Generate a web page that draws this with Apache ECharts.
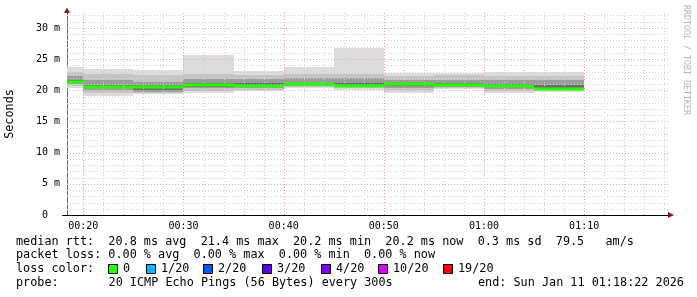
<!DOCTYPE html>
<html><head><meta charset="utf-8">
<script src="https://cdn.jsdelivr.net/npm/echarts@6/dist/echarts.min.js"></script>
<style>html,body{margin:0;padding:0;background:#fff}#c{width:697px;height:297px}</style>
</head><body><div id="c"></div>
<script>
// ---- data (minutes after 00:00, values in ms) ----
const segStart = [15, 20, 25, 30, 35, 40, 45, 50, 55, 60, 65];
const stepMinutes = 5;
const pMin = [20.3, 19.1, 19.4, 19.5, 19.9, 20.4, 20.1, 19.5, 20.2, 19.5, 19.7];
const p10  = [20.7, 19.6, 19.6, 19.9, 20.1, 20.5, 20.3, 20.0, 20.4, 19.9, 20.0];
const p25  = [21.0, 20.1, 19.8, 20.3, 20.4, 20.7, 20.5, 20.3, 20.6, 20.2, 20.1];
const p40  = [21.2, 20.4, 20.1, 20.6, 20.6, 20.8, 20.6, 20.7, 20.8, 20.5, 20.2];
const p60  = [21.7, 20.9, 20.8, 21.2, 21.1, 21.2, 21.2, 21.2, 21.2, 21.0, 20.8];
const p75  = [22.3, 21.6, 21.4, 21.8, 21.8, 21.9, 22.0, 21.7, 21.7, 21.6, 21.6];
const p90  = [23.0, 22.6, 22.4, 22.6, 22.5, 22.6, 22.6, 22.3, 22.5, 22.3, 22.3];
const pMax = [23.8, 23.4, 23.3, 25.7, 23.1, 23.8, 26.8, 22.8, 22.8, 22.9, 23.0];
const medianRtt = [21.4, 20.6, 20.5, 20.9, 20.75, 20.95, 20.65, 21.0, 20.9, 20.65, 20.2];

const xTickLabels = [20, 30, 40, 50, 60, 70];
const yTicks = [0, 5, 10, 15, 20, 25, 30];
const rttStats = [20.8, 21.4, 20.2, 20.2, 0.3];   // avg, max, min, now, sd
const amPerS = 79.5;
const lossStats = [0, 0, 0, 0];                 // avg, max, min, now
const lossLabels = ['0', '1/20', '2/20', '3/20', '4/20', '10/20', '19/20'];
const lossColors = ['#26ff00', '#00b8ff', '#0059ff', '#5e00ff', '#7e00ff', '#dd00ff', '#ff0000'];
const probeText = '20 ICMP Echo Pings (56 Bytes) every 300s';
const endText = 'end: Sun Jan 11 01:18:22 2026';

// ---- styles ----
const X_MIN = 18.37, X_MAX = 78.37, Y_MAX = 32.4;
const bandColors = ['#dcdcdc', '#c4c4c4', '#9c9c9c', '#6c6c6c', '#9c9c9c', '#c4c4c4', '#dcdcdc'];
const MONO = '"DejaVu Sans Mono", monospace';

const levels = [pMin, p10, p25, p40, p60, p75, p90, pMax];
const smokeData = [];
segStart.forEach((s, i) => {
  for (let b = 0; b < levels.length - 1; b++) {
    smokeData.push([s, s + stepMinutes, levels[b][i], levels[b + 1][i], b]);
  }
});
const medianData = segStart.map((s, i) => [s, s + stepMinutes, medianRtt[i]]);

// grid lines: [orientation, value, major]
const gridData = [];
for (let m = 20; m <= 78; m += 2) gridData.push([0, m, m % 10 === 0 ? 1 : 0]);
for (let v = 1; v <= 32; v++) gridData.push([1, v, v % 5 === 0 ? 1 : 0]);

function clip(r, cs) {
  return echarts.graphic.clipRectByRect(r, {x: cs.x, y: cs.y, width: cs.width, height: cs.height});
}
function renderSmoke(params, api) {
  const a = api.coord([api.value(0), api.value(3)]);
  const b = api.coord([api.value(1), api.value(2)]);
  const x0 = Math.round(a[0]), x1 = Math.round(b[0]);
  const y0 = Math.round(a[1]), y1 = Math.round(b[1]);
  const r = clip({x: x0, y: y0, width: x1 - x0, height: y1 - y0}, params.coordSys);
  if (!r) return;
  return {type: 'rect', shape: r, style: {fill: bandColors[api.value(4)]}};
}
function renderMedian(params, api) {
  const a = api.coord([api.value(0), api.value(2)]);
  const b = api.coord([api.value(1), api.value(2)]);
  const x0 = Math.round(a[0]), x1 = Math.round(b[0]);
  const r = clip({x: x0, y: Math.round(a[1]) - 1.5, width: x1 - x0, height: 3}, params.coordSys);
  if (!r) return;
  return {type: 'rect', shape: r, style: {fill: lossColors[0]}};
}
function renderGrid(params, api) {
  const o = api.value(0), v = api.value(1), major = api.value(2);
  let p0, p1;
  if (o === 0) { p0 = api.coord([v, 0]); p1 = api.coord([v, Y_MAX]); const x = Math.round(p0[0]) + 0.5; p0[0] = x; p1[0] = x; }
  else { p0 = api.coord([X_MIN, v]); p1 = api.coord([X_MAX, v]); const y = Math.round(p0[1]) + 0.5; p0[1] = y; p1[1] = y; }
  return {type: 'line', shape: {x1: p0[0], y1: p0[1], x2: p1[0], y2: p1[1]},
    style: {stroke: major ? '#e6a4a4' : '#d2d2d2', lineWidth: 1, lineDash: [1, 2]}};
}

function hhmm(v) {
  const h = Math.floor(v / 60), m = Math.round(v % 60);
  return String(h).padStart(2, '0') + ':' + String(m).padStart(2, '0');
}

const CW = 7.12, LX = 16, FONT = '11.8px ' + MONO;
const rowY = [241.5, 255.3, 269.3, 283.3];
const txt = (x, y, text) => ({type: 'text', x: x, y: y, silent: true,
  style: {text: text, font: FONT, fill: '#000', verticalAlign: 'middle', align: 'left'}});

const line1 = 'median rtt:  ' + rttStats[0].toFixed(1) + ' ms avg  ' + rttStats[1].toFixed(1) + ' ms max  ' +
  rttStats[2].toFixed(1) + ' ms min  ' + rttStats[3].toFixed(1) + ' ms now  ' + rttStats[4].toFixed(1) +
  ' ms sd  ' + amPerS.toFixed(1) + '   am/s';
const line2 = 'packet loss: ' + lossStats[0].toFixed(2) + ' % avg  ' + lossStats[1].toFixed(2) + ' % max  ' +
  lossStats[2].toFixed(2) + ' % min  ' + lossStats[3].toFixed(2) + ' % now';

const boxX = [108, 146, 203, 262, 321, 378, 443];
const graphics = [
  txt(LX, rowY[0], line1),
  txt(LX, rowY[1], line2),
  txt(LX, rowY[2], 'loss color:'),
  txt(LX, rowY[3], 'probe:'),
  txt(LX + 13 * CW, rowY[3], probeText),
  txt(478, rowY[3], endText),
  {type: 'text', x: 686, y: 5, rotation: -Math.PI / 2, silent: true,
   style: {text: 'RRDTOOL / TOBI OETIKER', font: '8.3px ' + MONO, fill: '#b4b4b4', verticalAlign: 'middle', align: 'left'}},
  {type: 'polygon', shape: {points: [[64, 13], [70, 13], [67, 7.5]]}, style: {fill: '#8b1a1a'}, silent: true},
  {type: 'polygon', shape: {points: [[668, 212], [668, 218], [674, 215]]}, style: {fill: '#8b1a1a'}, silent: true},
  {type: 'line', shape: {x1: 62, y1: 215.5, x2: 67, y2: 215.5}, style: {stroke: '#000', lineWidth: 1}, silent: true}
];
lossLabels.forEach((lab, i) => {
  graphics.push({type: 'rect', shape: {x: boxX[i] + 0.5, y: 264.5, width: 9, height: 9},
    style: {fill: lossColors[i], stroke: '#000', lineWidth: 1}, silent: true});
  graphics.push(txt(boxX[i] + 15, rowY[2], lab));
});

const chart = echarts.init(document.getElementById('c'), null, {renderer: 'canvas'});
chart.setOption({
  animation: false,
  backgroundColor: '#fff',
  grid: {left: 67, right: 29, top: 13, bottom: 82, containLabel: false, outerBoundsMode: 'none'},
  xAxis: {
    type: 'value', min: X_MIN, max: X_MAX,
    axisLine: {show: true, lineStyle: {color: '#000', width: 1}},
    axisTick: {show: false, customValues: xTickLabels},
    splitLine: {show: false},
    axisLabel: {customValues: xTickLabels, formatter: hhmm, margin: 6,
      fontFamily: MONO, fontSize: 10, color: '#000'}
  },
  yAxis: {
    type: 'value', min: 0, max: Y_MAX, interval: 5,
    name: 'Seconds', nameLocation: 'middle', nameGap: 51, nameRotate: 90,
    nameTextStyle: {fontFamily: MONO, fontSize: 11.8, color: '#000'},
    axisLine: {show: true, lineStyle: {color: '#6a6a6a', width: 1}},
    axisTick: {show: false},
    splitLine: {show: false},
    axisLabel: {customValues: yTicks, formatter: v => v === 0 ? '0  ' : v + ' m', margin: 7,
      fontFamily: MONO, fontSize: 10, color: '#000'}
  },
  series: [
    {type: 'custom', name: 'smoke', data: smokeData, renderItem: renderSmoke, z: 1,
     encode: {x: [0, 1], y: [2, 3]}, silent: true},
    {type: 'custom', name: 'grid', data: gridData, renderItem: renderGrid, z: 2, silent: true,
     encode: {x: -1, y: -1}},
    {type: 'custom', name: 'median rtt', data: medianData, renderItem: renderMedian, z: 3,
     encode: {x: [0, 1], y: 2}, silent: true}
  ],
  graphic: graphics
});
</script></body></html>
